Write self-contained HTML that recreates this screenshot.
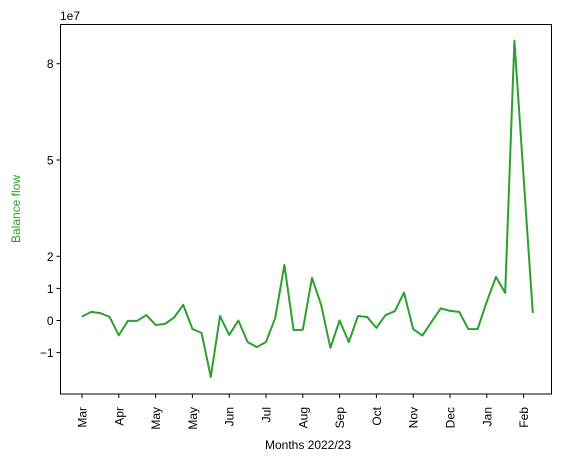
<!DOCTYPE html>
<html><head><meta charset="utf-8"><style>
body{margin:0;background:#fff;}
svg text{font-family:"Liberation Sans","DejaVu Sans",sans-serif;font-size:12px;fill:#000;}
</style></head><body>
<svg id="chart" width="565" height="462" xmlns="http://www.w3.org/2000/svg">
<rect width="565" height="462" fill="#fff"/>
<path id="line" fill="none" stroke="#2ca02c" stroke-width="2" stroke-linejoin="round"/>
<rect x="60.5" y="24.5" width="491" height="369.5" fill="none" stroke="#000" stroke-width="1"/>
<text x="60" y="20">1e7</text>
<text transform="translate(20,209) rotate(-90)" text-anchor="middle" style="fill:#2ca02c">Balance flow</text>
<text x="308" y="449" text-anchor="middle">Months 2022/23</text>
<g id="axes"></g>
</svg>
<script>
const values = [0.12,0.27,0.23,0.11,-0.46,-0.01,-0.01,0.17,-0.14,-0.11,0.09,0.49,-0.26,-0.39,-1.76,0.14,-0.45,0.0,-0.67,-0.83,-0.67,0.08,1.73,-0.30,-0.29,1.33,0.48,-0.85,0.0,-0.67,0.14,0.11,-0.23,0.17,0.29,0.87,-0.27,-0.47,-0.04,0.38,0.30,0.27,-0.27,-0.27,0.59,1.36,0.86,8.72,4.47,0.23];
const monthLabels = ["Mar","Apr","May","May","Jun","Jul","Aug","Sep","Oct","Nov","Dec","Jan","Feb"];
const yTicks = [8,5,2,1,0,-1];
const tickEvery = 4;

const NS="http://www.w3.org/2000/svg";
const pTop=24.5,pBottom=394,pLeft=60.5;
const yMax=(320.5-pTop)/32.1, yMin=(320.5-pBottom)/32.1;
function yS(v){return pBottom-(v-yMin)/(yMax-yMin)*(pBottom-pTop);}
const n=values.length;
const x0=82, x1=532.8;
function xS(i){return x0+i*(x1-x0)/(n-1);}
let d="";
values.forEach((v,i)=>{d+=(i?"L":"M")+xS(i).toFixed(2)+","+yS(v).toFixed(2);});
document.getElementById("line").setAttribute("d",d);
const ax=document.getElementById("axes");
yTicks.forEach(t=>{
  const y=yS(t);
  const l=document.createElementNS(NS,"line");
  l.setAttribute("x1",pLeft-4);l.setAttribute("x2",pLeft);l.setAttribute("y1",y);l.setAttribute("y2",y);l.setAttribute("stroke","#000");
  
  
  ax.appendChild(l);
  const tx=document.createElementNS(NS,"text");
  tx.setAttribute("x",pLeft-7);tx.setAttribute("y",y+4.5);tx.setAttribute("text-anchor","end");
  tx.textContent=t<0?"\u2212"+(-t):String(t);
  
  
  ax.appendChild(tx);
});
monthLabels.forEach((m,k)=>{
  const x=xS(k*tickEvery);
  const l=document.createElementNS(NS,"line");
  l.setAttribute("x1",x);l.setAttribute("x2",x);l.setAttribute("y1",pBottom);l.setAttribute("y2",pBottom+4);l.setAttribute("stroke","#000");
  
  
  ax.appendChild(l);
  const tx=document.createElementNS(NS,"text");
  tx.setAttribute("transform","translate("+(x+4.5)+",407) rotate(-90)");
  tx.setAttribute("text-anchor","end");
  tx.textContent=m;
  
  
  ax.appendChild(tx);
});
</script>
</body></html>
